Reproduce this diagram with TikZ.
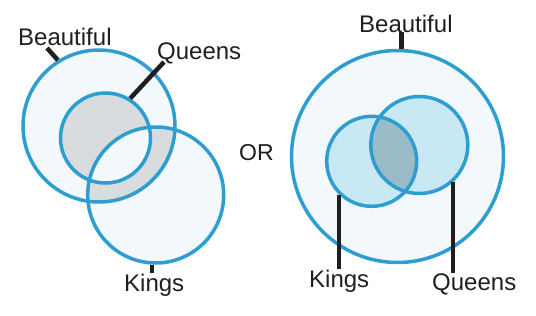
\documentclass[tikz,border=0pt]{standalone}
\usepackage{fontspec}
\setmainfont{Liberation Sans}
\usepackage{xcolor}
\definecolor{cring}{HTML}{2E9DD0}
\definecolor{cpale}{HTML}{F2F8FC}
\definecolor{cgrey}{HTML}{D9DCDE}
\definecolor{ccyan}{HTML}{C8E9F4}
\definecolor{cdark}{HTML}{9ABBC7}
\definecolor{clead}{HTML}{1F1F1F}

\begin{document}
\begin{tikzpicture}[x=1pt, y=-1pt,
  ring/.style = {circle, draw=cring, line width=3.5pt, inner sep=0pt},
  lbl/.style  = {inner sep=0pt, anchor=base west,
                 font=\fontsize{24}{28}\selectfont, text=clead},
  lead/.style = {line width=4.5pt, color=clead}
]
\useasboundingbox (0,0) rectangle (536,316);

% left: queens inside beautiful, kings sticking out
\coordinate (bc) at (99,126);
\coordinate (qc) at (105.5,138);
\coordinate (kc) at (155.7,195);
\fill[cpale] (bc) circle (76pt) (kc) circle (68pt);
\begin{scope}
  \clip (bc) circle (76pt);
  \fill[cgrey, even odd rule] (qc) circle (45pt) (kc) circle (68pt);
\end{scope}
\node[ring, minimum size=152pt] (bl) at (bc) {};
\node[ring, minimum size=90pt]  (ql) at (qc) {};
\node[ring, minimum size=136pt] (kl) at (kc) {};

\node[lbl] (bll) at (18,45)  {Beautiful};
\node[lbl] (qll) at (157,59) {Queens};
\node[lbl] (kll) at (124,291) {Kings};
\draw[lead] (bl.122) -- ([shift={(29,3)}]bll.base west);
\draw[lead] (ql.58)  -- ([shift={(7,3)}]qll.base west);
\draw[lead] (kl.267) -- (kl.267 |- kll.north);

\node[lbl, font=\fontsize{23}{28}\selectfont] (or) at (239,160) {OR};

% right: kings and queens both inside beautiful
\coordinate (rbc) at (397.5,156.5);
\coordinate (rkc) at (371.7,161.3);
\coordinate (rqc) at (419.3,145);
\fill[cpale] (rbc) circle (106pt);
\fill[ccyan] (rkc) circle (45pt) (rqc) circle (48.5pt);
\begin{scope}
  \clip (rkc) circle (45pt);
  \fill[cdark] (rqc) circle (48.5pt);
\end{scope}
\node[ring, minimum size=212pt] (rb) at (rbc) {};
\node[ring, minimum size=90pt]  (rk) at (rkc) {};
\node[ring, minimum size=97pt]  (rq) at (rqc) {};

\node[lbl] (rbl) at (359,32)  {Beautiful};
\node[lbl] (rkl) at (309,287) {Kings};
\node[lbl] (rql) at (432,290) {Queens};
\draw[lead] (rb.88)  -- (rb.88 |- rbl.south);
\draw[lead] (rk.226) -- (rk.226 |- rkl.north);
\draw[lead] (rq.312) -- (rq.312 |- rql.north);
\end{tikzpicture}
\end{document}
